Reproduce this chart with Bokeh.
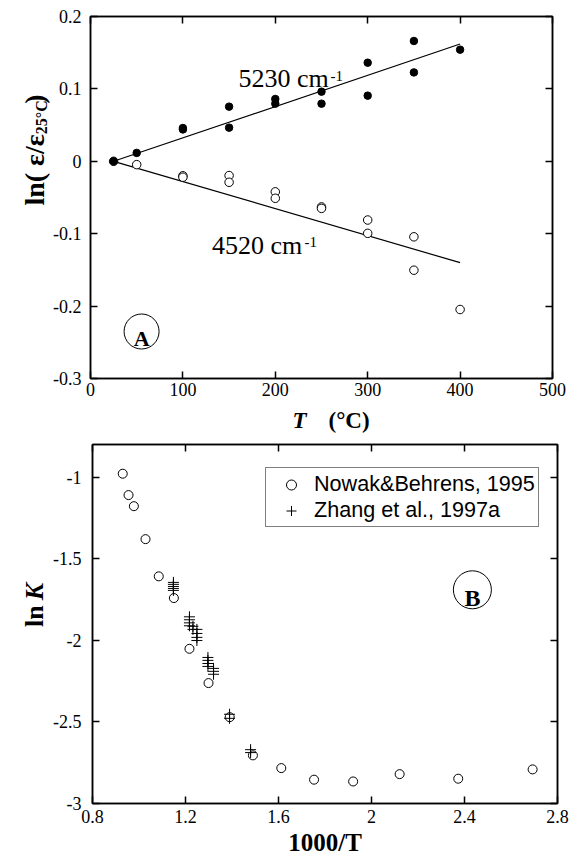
import math
from bokeh.plotting import figure
from bokeh.models import FixedTicker, LinearAxis, Label, Range1d, Legend, LegendItem
from bokeh.layouts import column, row
from bokeh.embed import file_html
from bokeh.resources import INLINE

# ---------------- Panel A data ----------------
T_5230 = [25, 50, 100, 100, 150, 150, 200, 200, 250, 250, 300, 300, 350, 350, 400]
ln_5230 = [0.0, 0.0116, 0.046, 0.044, 0.0755, 0.0465, 0.0861, 0.0796, 0.0962, 0.0796,
           0.1362, 0.0907, 0.1662, 0.1228, 0.1542]
T_4520 = [25, 50, 100, 100, 150, 150, 200, 200, 250, 250, 300, 300, 350, 350, 400]
ln_4520 = [0.0, -0.0046, -0.020, -0.022, -0.0197, -0.029, -0.0422, -0.0511, -0.063, -0.065,
           -0.0811, -0.0995, -0.1043, -0.1504, -0.2047]
fit_T = [25, 400]
fit_5230 = [0.0, 0.162]
fit_4520 = [0.0, -0.140]

a_xticks = [0, 100, 200, 300, 400, 500]
a_xtick_labels = ["0", "100", "200", "300", "400", "500"]
a_yticks = [-0.3, -0.2, -0.1, 0.0, 0.1, 0.2]
a_ytick_labels = ["-0.3", "-0.2", "-0.1", "0", "0.1", "0.2"]

# ---------------- Panel B data ----------------
nowak_x = [0.930, 0.955, 0.978, 1.028, 1.085, 1.150, 1.217, 1.299, 1.390, 1.490,
           1.612, 1.753, 1.921, 2.121, 2.373, 2.693]
nowak_lnK = [-0.979, -1.110, -1.178, -1.380, -1.608, -1.741, -2.052, -2.262, -2.471, -2.705,
             -2.783, -2.854, -2.865, -2.820, -2.848, -2.791]
zhang_x = [1.148, 1.148, 1.148, 1.148, 1.148,
           1.217, 1.217, 1.217, 1.217,
           1.232, 1.232,
           1.249, 1.249, 1.249, 1.249,
           1.2965, 1.2965, 1.2965, 1.2965,
           1.3206, 1.3206, 1.3206,
           1.3895, 1.3895,
           1.480, 1.480]
zhang_lnK = [-1.645, -1.657, -1.670, -1.682, -1.694,
             -1.856, -1.874, -1.893, -1.911,
             -1.914, -1.933,
             -1.933, -1.958, -1.982, -2.001,
             -2.105, -2.123, -2.142, -2.160,
             -2.172, -2.190, -2.208,
             -2.453, -2.478,
             -2.670, -2.688]

b_xticks = [0.8, 1.2, 1.6, 2.0, 2.4, 2.8]
b_xtick_labels = ["0.8", "1.2", "1.6", "2", "2.4", "2.8"]
b_yticks = [-3.0, -2.5, -2.0, -1.5, -1.0]
b_ytick_labels = ["-3", "-2.5", "-2", "-1.5", "-1"]

SERIF = "Liberation Serif"
SANS = "Liberation Sans"
W = 584
STRIP = 50  # width of the strip holding the rotated y titles


def style_axis(ax, ticks, labels, show_labels=True, standoff=8):
    ax.ticker = FixedTicker(ticks=ticks)
    ax.major_label_overrides = {t: s for t, s in zip(ticks, labels)}
    ax.major_tick_in = 7
    ax.major_tick_out = 0
    ax.minor_tick_line_color = None
    ax.axis_line_width = 1.5
    ax.axis_line_color = "black"
    ax.major_tick_line_width = 1.5
    ax.major_tick_line_color = "black"
    ax.major_label_text_font = SERIF
    if show_labels:
        ax.major_label_text_color = "black"
        ax.major_label_text_font_size = "18px"
        ax.major_label_standoff = standoff
    else:
        # mirrored ticks only, no labels painted
        ax.major_label_text_color = None
        ax.major_label_text_font_size = "1px"
        ax.major_label_standoff = 0


def base_fig(width, height, xr, yr, bl, br, bt, bb):
    p = figure(width=width, height=height, x_range=Range1d(*xr), y_range=Range1d(*yr),
               output_backend="svg", toolbar_location=None,
               min_border_left=bl, min_border_right=br, min_border_top=bt, min_border_bottom=bb)
    p.grid.visible = False
    p.outline_line_color = "black"
    p.outline_line_width = 1.5
    p.background_fill_color = "white"
    p.border_fill_color = "white"
    return p


def text_fig(width, height):
    # a plain drawing area whose data units are pixels (y downward), used for titles
    p = figure(width=width, height=height, x_range=Range1d(0, width),
               y_range=Range1d(height, 0), output_backend="svg", toolbar_location=None,
               x_axis_location=None, y_axis_location=None,
               min_border_left=0, min_border_right=0, min_border_top=0, min_border_bottom=0)
    p.grid.visible = False
    p.outline_line_color = None
    p.background_fill_color = "white"
    p.border_fill_color = "white"
    return p


def add_label(p, pos, text, size, style="normal", align="left", baseline="alphabetic",
              angle=0.0, font=SERIF):
    x, y = pos
    p.add_layout(Label(x=x, y=y, text=text, text_font=font,
                       text_font_size=f"{size}px", text_font_style=style, text_align=align,
                       text_baseline=baseline, angle=angle, text_color="black"))


UP = math.pi / 2   # text reading bottom-to-top

# ---------------- Panel A ----------------
A_L, A_R, A_T, A_B = 88.0, 552.0, 16.0, 378.0   # page-pixel frame edges
A_H = 403      # panel height (frame + tick labels)
XA_H = 35      # strip for the x title of panel A


def apos(px, py):
    return (px - A_L) / (A_R - A_L) * 500.0, 0.2 - (py - A_T) / (A_B - A_T) * 0.5


pA = base_fig(W - STRIP, A_H, (0, 500), (-0.3, 0.2), int(A_L - STRIP), int(W - A_R),
              int(A_T), int(A_H - A_B))
style_axis(pA.below[0], a_xticks, a_xtick_labels, True, 4)
style_axis(pA.left[0], a_yticks, a_ytick_labels, True, 9)
topA = LinearAxis()
style_axis(topA, a_xticks, a_xtick_labels, False)
pA.add_layout(topA, "above")
rightA = LinearAxis()
style_axis(rightA, a_yticks, a_ytick_labels, False)
pA.add_layout(rightA, "right")

pA.line(fit_T, fit_5230, line_color="black", line_width=1.2)
pA.line(fit_T, fit_4520, line_color="black", line_width=1.2)
pA.scatter(T_4520, ln_4520, marker="circle", size=8.5, fill_color="white",
           line_color="black", line_width=1)
pA.scatter(T_5230, ln_5230, marker="circle", size=7.5, fill_color="black",
           line_color="black", line_width=1)

add_label(pA, apos(236.7, 78.3), "5230 cm", 26)
add_label(pA, apos(329.0, 75.0), "-1", 15)
add_label(pA, apos(210.0, 245.0), "4520 cm", 26)
add_label(pA, apos(303.0, 241.0), "-1", 15)

ax_, ay_ = apos(139.3, 331.0)
pA.scatter([ax_], [ay_], marker="circle", size=35, fill_color="white",
           line_color="black", line_width=1)
add_label(pA, apos(139.3, 338.3), "A", 22, "bold", "center")

# y title of panel A: ln( ε/ε_25°C ); pieces joined at measured page positions
yA = text_fig(STRIP, A_H)
join1 = 131.0              # where the subscript begins
join2 = join1 - 2.122 * 16  # where the closing parenthesis begins
add_label(yA, (33.5, join1), "ln( ε/ε", 28, "bold", "right", "middle", angle=UP)
add_label(yA, (40.5, join1), "25°C", 16, "bold", "left", "middle", angle=UP)
add_label(yA, (33.5, join2), ")", 28, "bold", "left", "middle", angle=UP)

# x title of panel A: T (°C)  (middle of the text at page y ~419.5)
xA = text_fig(W, XA_H)
add_label(xA, (292.0, 419.5 - A_H), "T", 23, "bold italic", "left", "middle")
add_label(xA, (328.0, 419.5 - A_H), "(°C)", 23, "bold", "left", "middle")

# ---------------- Panel B ----------------
B0 = A_H + XA_H                                   # page y where panel B starts
B_L, B_R, B_T, B_B = 91.0, 557.0, 444.0, 803.0
B_H = 860 - B0


def bpos(px, py):
    return 0.8 + (px - B_L) / (B_R - B_L) * 2.0, -0.8 - (py - B_T) / (B_B - B_T) * 2.2


pB = base_fig(W - STRIP, B_H, (0.8, 2.8), (-3.0, -0.8), int(B_L - STRIP), int(W - B_R),
              int(B_T - B0), int(B0 + B_H - B_B))
style_axis(pB.below[0], b_xticks, b_xtick_labels, True, 6)
style_axis(pB.left[0], b_yticks, b_ytick_labels, True, 11)
pB.below[0].axis_label = "1000/T"
pB.below[0].axis_label_text_font = SERIF
pB.below[0].axis_label_text_font_size = "25px"
pB.below[0].axis_label_text_font_style = "bold"
pB.below[0].axis_label_text_color = "black"
pB.below[0].axis_label_standoff = 3
topB = LinearAxis()
style_axis(topB, b_xticks, b_xtick_labels, False)
pB.add_layout(topB, "above")
rightB = LinearAxis()
style_axis(rightB, b_yticks, b_ytick_labels, False)
pB.add_layout(rightB, "right")

r_now = pB.scatter(nowak_x, nowak_lnK, marker="circle", size=9, fill_color=None,
                   line_color="black", line_width=1)
r_zh = pB.scatter(zhang_x, zhang_lnK, marker="cross", size=11, line_color="black",
                  line_width=1)

legend = Legend(items=[LegendItem(label="Nowak&Behrens, 1995", renderers=[r_now]),
                       LegendItem(label="Zhang et al., 1997a", renderers=[r_zh])],
                location=(264 - B_L, B_B - 527), margin=0, padding=3, spacing=0,
                label_height=25, glyph_height=25, glyph_width=44, label_standoff=1,
                label_text_font=SANS, label_text_font_size="21.6px",
                label_text_color="black",
                border_line_color="black", border_line_width=1.5,
                background_fill_color="white", background_fill_alpha=1.0)
pB.add_layout(legend)

bx_, by_ = bpos(471.7, 589.3)
pB.scatter([bx_], [by_], marker="circle", size=38, fill_color="white",
           line_color="black", line_width=1)
add_label(pB, bpos(471.7, 597.7), "B", 24, "bold", "center")

# y title of panel B: ln K
yB = text_fig(STRIP, B_H)
add_label(yB, (34.2, 627.0 - B0), "ln", 26, "bold", "right", "middle", angle=UP)
add_label(yB, (34.2, 621.0 - B0), "K", 26, "bold italic", "left", "middle", angle=UP)

layout = column(row(yA, pA), xA, row(yB, pB))
open("out.html", "w").write(file_html(layout, INLINE))
